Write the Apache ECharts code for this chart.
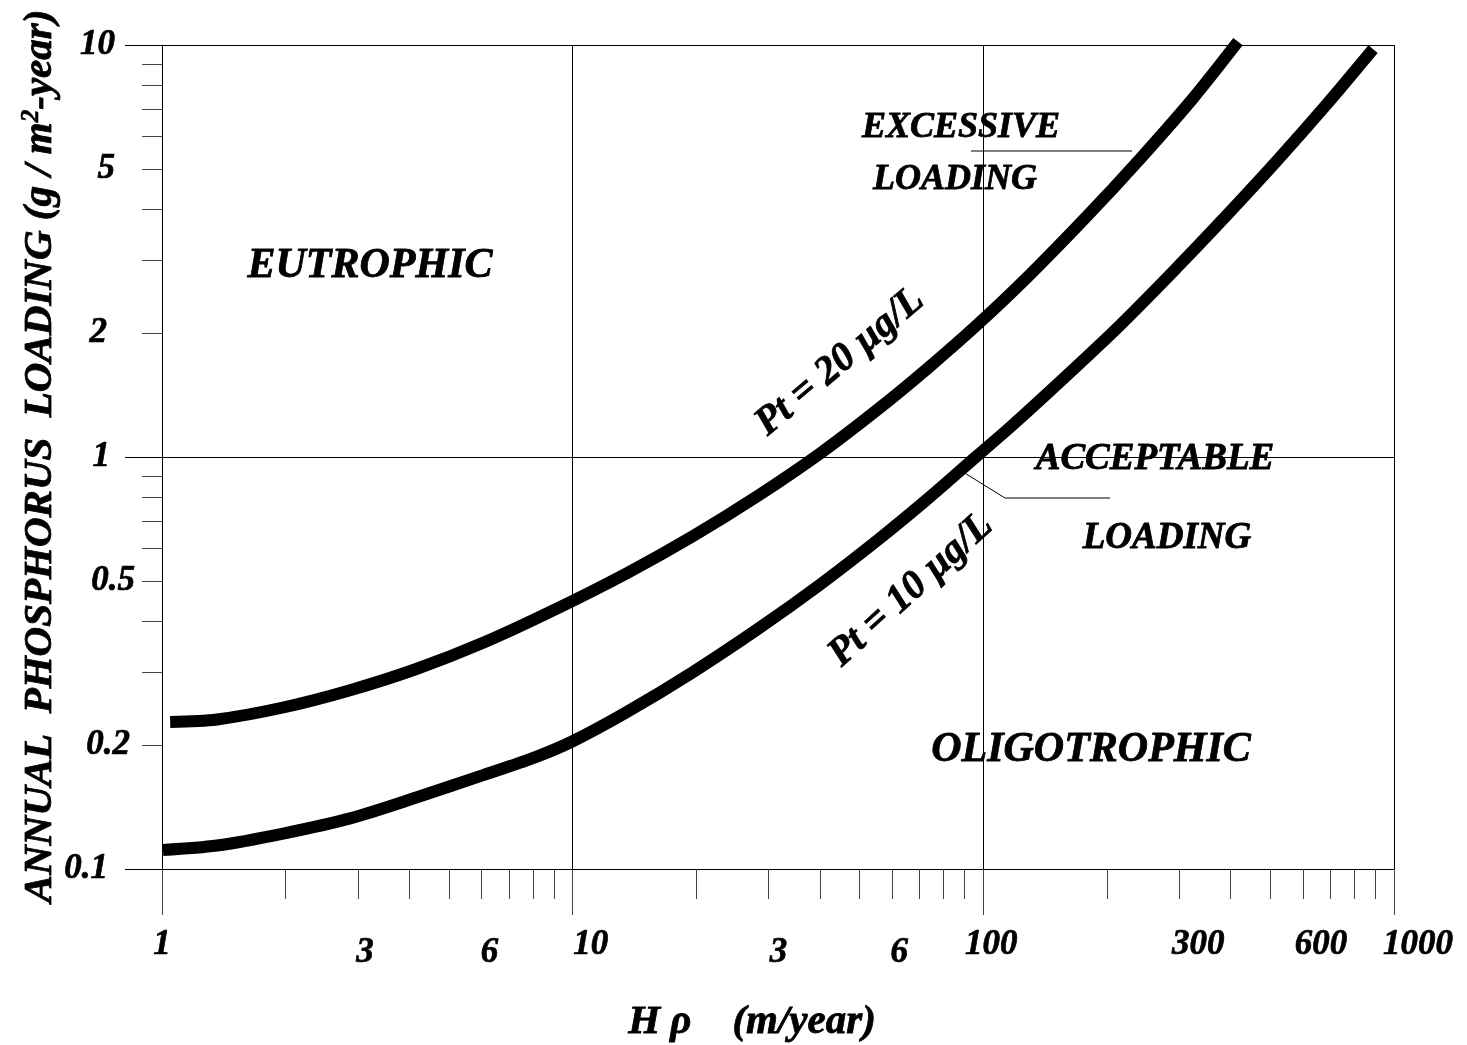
<!DOCTYPE html>
<html>
<head>
<meta charset="utf-8">
<script src="https://cdn.jsdelivr.net/npm/echarts@6/dist/echarts.min.js"></script>
<style>
html,body{margin:0;padding:0;background:#fff;}
#chart{width:1467px;height:1045px;}
</style>
</head>
<body>
<div id="chart"></div>
<script>
// ---- data ----
const xLabelValues = [1, 3, 6, 10, 30, 60, 100, 300, 600, 1000];
const xLabelTexts  = ['1', '3', '6', '10', '3', '6', '100', '300', '600', '1000'];
const xMinorTicks = [1,2,3,4,5,6,7,8,9,10,20,30,40,50,60,70,80,90,100,200,300,400,500,600,700,800,900,1000];
const xMajorTicks = [1, 10, 100, 1000];

const yLabelValues = [0.1, 0.2, 0.5, 1, 2, 5, 10];
const yLabelTexts  = ['0.1', '0.2', '0.5', '1', '2', '5', '10'];
const yMinorTicks = [0.1,0.2,0.3,0.4,0.5,0.6,0.7,0.8,0.9,1,2,3,4,5,6,7,8,9,10];
const yMajorTicks = [0.1, 1, 10];

// Pt = 20 µg/L curve
const pt20X = [1.047, 1.361, 1.972, 2.871, 4.178, 6.053, 8.81, 13.55, 19.63, 28.58, 39.99, 55.08, 72.95, 96.4, 127.6, 178.6, 240.4, 323.6, 416.9];
const pt20Y = [0.2275, 0.2307, 0.2466, 0.2716, 0.3062, 0.354, 0.4207, 0.5224, 0.6427, 0.811, 1.019, 1.30, 1.637, 2.089, 2.723, 3.837, 5.284, 7.413, 10.19];

// Pt = 10 µg/L curve
const pt10X = [1.0055, 1.361, 1.972, 2.871, 4.178, 6.053, 8.0, 10.0, 13.55, 19.63, 28.58, 39.99, 55.08, 72.95, 96.4, 116.1, 153.8, 215.3, 289.7, 391.7, 518.8, 687.1, 889.2];
const pt10Y = [0.1112, 0.114, 0.1219, 0.1327, 0.1493, 0.169, 0.1858, 0.2042, 0.2404, 0.3006, 0.3855, 0.4898, 0.6266, 0.7889, 1.005, 1.180, 1.524, 2.089, 2.818, 3.864, 5.236, 7.194, 9.77];

// ---- styling helpers ----
const FONT = 'Liberation Serif';
const xLabelStyle = {
  '1': 'p0', '3': 'q14', '6': 'q16', '10': 'p36', '30': 'q20', '60': 'q14', '100': 'p16', '300': 'p38', '600': 'p36', '1000': 'p48'
};
const yLabelPad = { '10': 20, '5': 20, '2': 28, '1': 25, '0.5': 0, '0.2': 5, '0.1': 27 };

function key(v) { return String(+(+v).toPrecision(3)); }

const TICK_FONT = 35;
const tickRich = {};
[0, 14, 16, 20, 36, 38, 48].forEach(p => {
  const base = { fontFamily: FONT, fontWeight: 'bold', fontStyle: 'italic', fontSize: TICK_FONT, color: '#000', textBorderColor: '#000', textBorderWidth: 0.7 };
  tickRich['p' + p] = Object.assign({}, base, { padding: [0, 0, 0, p] });
  tickRich['q' + p] = Object.assign({}, base, { padding: [8, 0, 0, p] });
});
const yRich = {};
[0, 5, 20, 25, 27, 28].forEach(p => {
  yRich['r' + p] = { fontFamily: FONT, fontWeight: 'bold', fontStyle: 'italic', fontSize: TICK_FONT, color: '#000', textBorderColor: '#000', textBorderWidth: 0.7, padding: [0, p, 0, 0] };
});

const chart = echarts.init(document.getElementById('chart'), null, { renderer: 'canvas' });

function label(text, x, y, size, rot) {
  return {
    type: 'text', x: x, y: y, rotation: rot || 0, z: 50,
    style: {
      text: text, fontFamily: FONT, fontWeight: 'bold', fontStyle: 'italic', fontSize: size,
      fill: '#000', stroke: '#000', lineWidth: 0.8, align: 'center', verticalAlign: 'middle'
    }
  };
}

const option = {
  backgroundColor: '#fff',
  animation: false,
  grid: { left: 162, right: 73, top: 45, bottom: 176, containLabel: false },
  xAxis: [
    {
      type: 'log', logBase: 10, min: 1, max: 1000, position: 'bottom',
      axisLine: { show: true, lineStyle: { color: '#000', width: 1 } },
      axisTick: { show: true, customValues: xMinorTicks, length: 30, lineStyle: { color: '#444', width: 1 } },
      axisLabel: {
        show: true, customValues: xLabelValues, margin: 58,
        formatter: function (v) {
          const k = key(v);
          const idx = xLabelValues.findIndex(a => key(a) === k);
          const st = xLabelStyle[k] || 'p0';
          return '{' + st + '|' + (idx >= 0 ? xLabelTexts[idx] : k) + '}';
        },
        rich: tickRich
      },
      splitLine: { show: false }
    },
    {
      type: 'log', logBase: 10, min: 1, max: 1000, position: 'bottom',
      axisLine: { show: false },
      axisTick: { show: true, customValues: xMajorTicks, length: 46, lineStyle: { color: '#444', width: 1 } },
      axisLabel: { show: false },
      splitLine: { show: true, lineStyle: { color: '#000', width: 1 } }
    }
  ],
  yAxis: [
    {
      type: 'log', logBase: 10, min: 0.1, max: 10, position: 'left',
      axisLine: { show: true, lineStyle: { color: '#000', width: 1 } },
      axisTick: { show: true, customValues: yMinorTicks, length: 20, lineStyle: { color: '#444', width: 1 } },
      axisLabel: {
        show: true, customValues: yLabelValues, margin: 27,
        formatter: function (v) {
          const k = key(v);
          const idx = yLabelValues.findIndex(a => key(a) === k);
          const t = idx >= 0 ? yLabelTexts[idx] : k;
          return '{r' + (yLabelPad[t] || 0) + '|' + t + '}';
        },
        rich: yRich
      },
      splitLine: { show: false }
    },
    {
      type: 'log', logBase: 10, min: 0.1, max: 10, position: 'left',
      axisLine: { show: false },
      axisTick: { show: true, customValues: yMajorTicks, length: 37, lineStyle: { color: '#000', width: 1 } },
      axisLabel: { show: false },
      splitLine: { show: true, lineStyle: { color: '#000', width: 1 } }
    }
  ],
  series: [
    {
      name: 'Pt = 20 µg/L', type: 'line', xAxisIndex: 0, yAxisIndex: 0,
      data: pt20X.map((x, i) => [x, pt20Y[i]]),
      smooth: 0.3, showSymbol: false, clip: false, z: 10,
      lineStyle: { color: '#000', width: 12, cap: 'butt', join: 'round' }
    },
    {
      name: 'Pt = 10 µg/L', type: 'line', xAxisIndex: 0, yAxisIndex: 0,
      data: pt10X.map((x, i) => [x, pt10Y[i]]),
      smooth: 0.3, showSymbol: false, clip: false, z: 10,
      lineStyle: { color: '#000', width: 12, cap: 'butt', join: 'round' }
    }
  ],
  graphic: [
    label('EUTROPHIC', 370, 266, 42),
    label('EXCESSIVE', 961, 128, 36),
    label('LOADING', 955, 180, 36),
    label('ACCEPTABLE', 1155, 459, 37),
    label('LOADING', 1167, 538, 37),
    label('OLIGOTROPHIC', 1091, 750, 42),
    label('Pt = 20 µg/L', 840, 362, 40, 0.70),
    label('Pt = 10 µg/L', 911, 590, 40, 0.74),
    {
      type: 'polyline', z: 40,
      shape: { points: [[971, 151], [1132, 151]] },
      style: { stroke: '#000', lineWidth: 1, fill: null }
    },
    {
      type: 'polyline', z: 40,
      shape: { points: [[955, 467], [1005, 498], [1110, 498]] },
      style: { stroke: '#000', lineWidth: 1, fill: null }
    },
    {
      type: 'text', x: 40, y: 456, rotation: Math.PI / 2, z: 50,
      style: {
        text: '{t|ANNUAL  PHOSPHORUS  LOADING (g / m}{s|2}{t|-year)}',
        align: 'center', verticalAlign: 'middle',
        rich: {
          t: { fontFamily: FONT, fontWeight: 'bold', fontStyle: 'italic', fontSize: 41, fill: '#000', stroke: '#000', lineWidth: 0.8 },
          s: { fontFamily: FONT, fontWeight: 'bold', fontStyle: 'italic', fontSize: 25, fill: '#000', stroke: '#000', lineWidth: 0.6, verticalAlign: 'top', padding: [0, 0, 16, 0] }
        }
      }
    },
    label('H ρ    (m/year)', 752, 1022, 41)
  ]
};

chart.setOption(option);
</script>
</body>
</html>
